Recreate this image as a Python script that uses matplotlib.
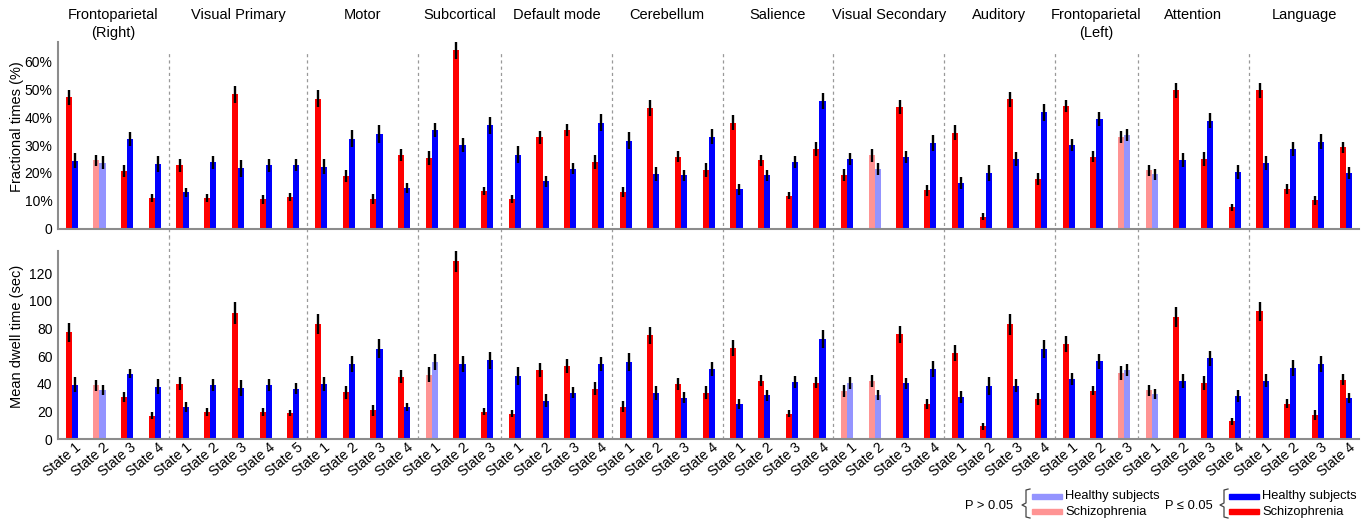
import matplotlib
matplotlib.use("Agg")
import matplotlib.pyplot as plt
import matplotlib.transforms as mtransforms
from matplotlib.lines import Line2D
from matplotlib.patches import Rectangle
import numpy as np

plt.rcParams['font.family'] = ['Liberation Sans', 'DejaVu Sans']

networks = ["Frontoparietal\n(Right)", "Visual Primary", "Motor", "Subcortical", "Default mode",
            "Cerebellum", "Salience", "Visual Secondary", "Auditory", "Frontoparietal\n(Left)",
            "Attention", "Language"]
n_states = [4, 5, 4, 3, 4, 4, 4, 4, 4, 3, 4, 4]

# fractional times (%), one row per network
frac_sz = [47.0, 24.6, 20.7, 11.1,
           22.7, 11.1, 48.1, 10.6, 11.5,
           46.5, 19.0, 10.8, 26.5,
           25.2, 63.9, 13.5,
           10.7, 32.7, 35.4, 24.0,
           13.2, 43.2, 25.8, 21.1,
           37.9, 24.6, 11.9, 28.5,
           19.4, 26.3, 43.6, 13.8,
           34.4, 4.4, 46.4, 17.9,
           44.0, 25.8, 32.9,
           21.0, 49.5, 24.9, 7.7,
           49.6, 14.2, 10.2, 29.2]
frac_hc = [24.4, 23.7, 32.1, 23.2,
           13.1, 23.8, 21.7, 22.7, 22.8,
           22.3, 32.3, 33.9, 14.6,
           35.4, 30.1, 37.0,
           26.5, 17.0, 21.5, 37.9,
           31.5, 19.6, 19.2, 33.0,
           14.2, 19.2, 23.9, 45.7,
           25.1, 21.5, 25.7, 30.7,
           16.4, 20.0, 25.0, 41.7,
           30.0, 39.3, 33.5,
           19.6, 24.5, 38.7, 20.4,
           23.5, 28.7, 31.1, 19.9]
frac_sz_err = [2.7, 2.0, 2.0, 1.5,
               2.2, 1.5, 3.0, 1.5, 1.5,
               3.0, 2.2, 1.8, 2.2,
               2.5, 3.0, 1.5,
               1.5, 2.2, 2.2, 2.5,
               1.8, 2.7, 2.0, 2.5,
               2.7, 2.0, 1.3, 2.5,
               2.2, 2.2, 2.5, 2.0,
               2.7, 1.2, 2.7, 2.2,
               2.2, 2.0, 2.2,
               2.0, 2.7, 2.5, 1.2,
               2.7, 1.8, 1.5, 2.0]
frac_hc_err = [2.7, 2.2, 2.4, 2.7,
               1.7, 2.2, 3.0, 2.2, 2.2,
               2.7, 3.0, 3.3, 1.7,
               2.5, 2.5, 3.0,
               3.0, 2.0, 2.0, 3.0,
               3.0, 2.5, 2.0, 2.7,
               2.0, 2.0, 2.2, 3.0,
               2.2, 2.2, 2.2, 2.7,
               2.0, 2.7, 2.5, 3.0,
               2.2, 2.5, 2.2,
               2.0, 2.5, 2.7, 2.5,
               2.5, 2.5, 2.7, 2.2]

# mean dwell time (sec)
dwell_sz = [77.3, 38.9, 30.2, 16.7,
            40.1, 19.8, 91.3, 19.8, 18.8,
            83.1, 33.8, 20.8, 45.2,
            46.6, 129.0, 19.8,
            18.4, 50.0, 52.7, 36.5,
            23.4, 75.1, 39.9, 33.6,
            65.9, 42.0, 18.4, 40.8,
            34.6, 42.0, 75.8, 25.1,
            62.3, 9.2, 83.1, 29.0,
            68.8, 35.0, 47.6,
            35.3, 88.2, 40.6, 13.0,
            92.3, 25.6, 17.4, 43.0]
dwell_hc = [39.4, 35.5, 47.3, 37.9,
            23.4, 38.9, 37.0, 39.1, 36.5,
            39.6, 54.3, 65.4, 23.4,
            55.6, 54.3, 57.0,
            45.7, 27.8, 33.6, 54.3,
            55.6, 33.1, 29.9, 50.7,
            25.1, 31.7, 41.3, 72.5,
            40.6, 31.9, 40.3, 50.7,
            30.2, 38.4, 38.6, 65.4,
            43.5, 56.3, 50.0,
            32.8, 42.0, 58.5, 31.2,
            42.3, 51.4, 54.3, 29.5]
dwell_sz_err = [7, 4, 3.5, 2.5,
                4.5, 3, 8, 3, 2.5,
                7, 4.5, 4, 4.5,
                5.5, 8, 2.5,
                2.5, 5, 5, 4.5,
                4, 6, 4.5, 4.5,
                6, 4, 2.5, 4,
                4.5, 4.5, 6, 3.5,
                6, 2.5, 7.5, 4.5,
                5.5, 3.5, 5,
                4, 7, 5, 2.5,
                7, 3.5, 3.5, 4]
dwell_hc_err = [5.5, 3.5, 3.5, 5.5,
                3.5, 4.5, 6, 4.5, 4,
                5, 5.5, 7, 3,
                6, 6, 6,
                6.5, 4.5, 4, 5,
                6.5, 5, 4, 5,
                3.5, 4, 4.5, 6.5,
                4.5, 3.5, 4, 5.5,
                4.5, 6.5, 4.5, 6.5,
                4.5, 5.5, 4.5,
                3.5, 5, 5.5, 4.5,
                5, 5.5, 6, 3.5]

# states with P > 0.05 (index into the flat lists)
frac_ns = [1, 29, 38, 39]
dwell_ns = [1, 13, 28, 29, 38, 39]

RED, BLUE = '#FF0000', '#0000FF'
PINK, LBLUE = '#FF9494', '#9494FF'
W = 0.22

fig = plt.figure(figsize=(13.67, 5.19), dpi=100)
ax1 = fig.add_axes([0.0424, 0.5588, 0.9521, 0.3603])
ax2 = fig.add_axes([0.0424, 0.1541, 0.9521, 0.3622])

bounds = np.cumsum(n_states)[:-1] - 0.5
x = np.arange(sum(n_states))


def draw_panel(ax, sz, hc, sz_err, hc_err, ns, ymax):
    sig = np.array([i not in ns for i in x])
    c_sz = np.where(sig, RED, PINK)
    c_hc = np.where(sig, BLUE, LBLUE)
    ekw = dict(ecolor='black', elinewidth=1.7, capsize=0)
    ax.bar(x - W / 2, sz, W, color=c_sz, yerr=sz_err, error_kw=ekw, zorder=2)
    ax.bar(x + W / 2, hc, W, color=c_hc, yerr=hc_err, error_kw=ekw, zorder=2)
    ax.set_xlim(-0.5, len(x) - 0.5)
    ax.set_ylim(0, ymax)
    for s in ['top', 'right']:
        ax.spines[s].set_visible(False)
    for s in ['left', 'bottom']:
        ax.spines[s].set_color('#8c8c8c')
        ax.spines[s].set_linewidth(1.5)
    ax.tick_params(length=0, labelsize=10, pad=4)


draw_panel(ax1, frac_sz, frac_hc, frac_sz_err, frac_hc_err, frac_ns, 66.8)
draw_panel(ax2, dwell_sz, dwell_hc, dwell_sz_err, dwell_hc_err, dwell_ns, 136)

for b in bounds:
    ax1.axvline(b, ymin=-0.05, ymax=0.947, color='#999999', lw=0.9, ls=(0, (2.5, 2.5)),
                clip_on=False, zorder=1)
    ax2.axvline(b, ymin=0, ymax=1.07, color='#999999', lw=0.9, ls=(0, (2.5, 2.5)),
                clip_on=False, zorder=1)

ax1.set_yticks(range(0, 70, 10))
ax1.set_yticklabels(['0'] + [f'{v}%' for v in range(10, 70, 10)])
ax1.set_xticks([])
ax2.set_yticks(range(0, 140, 20))

labels = []
for n in n_states:
    labels += [f'State {k}' for k in range(1, n + 1)]
ax2.set_xticks(x)
ax2.set_xticklabels(labels, rotation=40, ha='right', va='top')
ax2.tick_params(axis='x', pad=1)
offset = mtransforms.ScaledTranslation(12 / 100, 0, fig.dpi_scale_trans)
for lab in ax2.get_xticklabels():
    lab.set_transform(lab.get_transform() + offset)

fig.text(0.0124, 0.7553, 'Fractional times (%)', rotation=90, ha='center', va='center', fontsize=10.5)
fig.text(0.0124, 0.3526, 'Mean dwell time (sec)', rotation=90, ha='center', va='center', fontsize=10.5)

# network titles
trans = mtransforms.blended_transform_factory(ax1.transData, fig.transFigure)
start = 0
for name, n in zip(networks, n_states):
    xc = start + (n - 1) / 2
    ax1.text(xc, 1 - 8 / 519, name, transform=trans, ha='center', va='top',
             fontsize=10.5, linespacing=1.35)
    start += n

# legend with braces
H = 519.0
W_PX = 1367.0


def fx(px):
    return px / W_PX


def fy(py):
    return 1 - py / H


def legend_block(xtext, xbrace, xpatch, label, c_hc, c_sz):
    fig.text(fx(xtext), fy(506), label, ha='right', va='center', fontsize=9.3)
    pts = [(xbrace + 4, 489), (xbrace, 490), (xbrace, 503), (xbrace - 4, 505),
           (xbrace, 507), (xbrace, 517), (xbrace + 4, 518)]
    fig.add_artist(Line2D([fx(p[0]) for p in pts], [fy(p[1]) for p in pts],
                          color='#444444', lw=0.9, transform=fig.transFigure))
    for yc, c, txt in [(496, c_hc, 'Healthy subjects'), (511.5, c_sz, 'Schizophrenia')]:
        fig.add_artist(Rectangle((fx(xpatch), fy(yc + 2.5)), fx(30), 5 / H,
                                 color=c, transform=fig.transFigure))
        fig.text(fx(xpatch + 33), fy(yc), txt, ha='left', va='center', fontsize=9.3)


legend_block(1013, 1026, 1032, 'P > 0.05', LBLUE, PINK)
legend_block(1213, 1224, 1229, 'P \u2264 0.05', BLUE, RED)

fig.savefig('out.png', dpi=100)
